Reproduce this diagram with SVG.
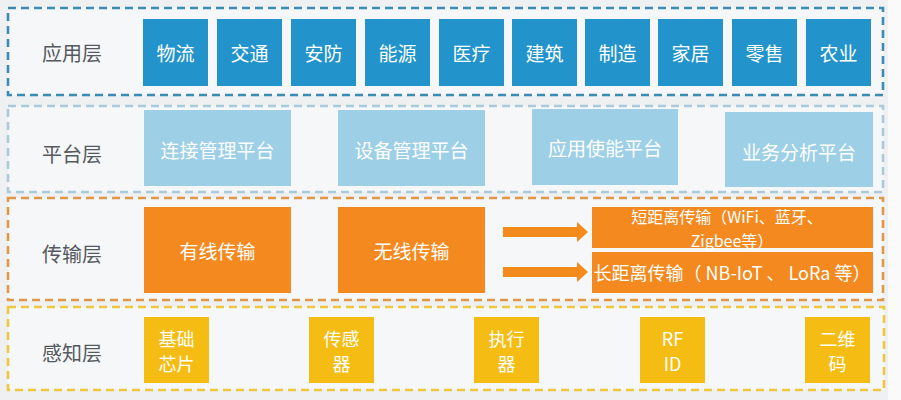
<svg xmlns="http://www.w3.org/2000/svg" width="901" height="400" viewBox="0 0 901 400">
<style>
text{font-family:"Noto Sans CJK SC","Noto Sans",sans-serif;text-anchor:middle;dominant-baseline:central}
.lbl{font-size:20px;fill:#555a60}
.w{fill:#ffffff;font-size:19px}
.s{font-size:18px}
.t{font-size:16px}
.layer{fill:#f6f7f9;stroke-width:2.6;stroke-dasharray:8 5}
.app{fill:#2294cb}
.plat{fill:#9dd0e7}
.tr{fill:#f48a1f}
.pe{fill:#f5bd14}
.arrow{fill:#f28a1e}
</style>
<rect x="0" y="0" width="901" height="400" fill="#eef0f2"/>
<rect x="888" y="0" width="13" height="400" fill="#fafafa"/>

<g id="layer-app">
<rect class="layer" x="8" y="8" width="875" height="87" stroke="#3a8cb4"/>
<text class="lbl" x="72" y="52">应用层</text>
</g>
<g id="n-wuliu"><rect class="app" x="143" y="19" width="65" height="67"/><text class="w" x="175.5" y="52">物流</text></g>
<g id="n-jiaotong"><rect class="app" x="217" y="19" width="65" height="67"/><text class="w" x="249.5" y="52">交通</text></g>
<g id="n-anfang"><rect class="app" x="291" y="19" width="65" height="67"/><text class="w" x="323.5" y="52">安防</text></g>
<g id="n-nengyuan"><rect class="app" x="365" y="19" width="65" height="67"/><text class="w" x="397.5" y="52">能源</text></g>
<g id="n-yiliao"><rect class="app" x="439" y="19" width="65" height="67"/><text class="w" x="471.5" y="52">医疗</text></g>
<g id="n-jianzhu"><rect class="app" x="512" y="19" width="65" height="67"/><text class="w" x="544.5" y="52">建筑</text></g>
<g id="n-zhizao"><rect class="app" x="585" y="19" width="65" height="67"/><text class="w" x="617.5" y="52">制造</text></g>
<g id="n-jiaju"><rect class="app" x="658" y="19" width="65" height="67"/><text class="w" x="690.5" y="52">家居</text></g>
<g id="n-lingshou"><rect class="app" x="732" y="19" width="65" height="67"/><text class="w" x="764.5" y="52">零售</text></g>
<g id="n-nongye"><rect class="app" x="806" y="19" width="65" height="67"/><text class="w" x="838.5" y="52">农业</text></g>

<g id="layer-plat">
<rect class="layer" x="8" y="106" width="875" height="86" stroke="#a9cadb"/>
<text class="lbl" x="72" y="153">平台层</text>
</g>
<g id="n-lianjie"><rect class="plat" x="144" y="110" width="147" height="76"/><text class="w" x="217.5" y="149">连接管理平台</text></g>
<g id="n-shebei"><rect class="plat" x="338" y="110" width="147" height="76"/><text class="w" x="411.5" y="149">设备管理平台</text></g>
<g id="n-yingyong"><rect class="plat" x="532" y="109" width="146" height="76"/><text class="w" x="605" y="147">应用使能平台</text></g>
<g id="n-yewu"><rect class="plat" x="725" y="112" width="148" height="75"/><text class="w" x="799" y="151">业务分析平台</text></g>

<g id="layer-trans">
<rect class="layer" x="8" y="198" width="875" height="102" stroke="#e09848"/>
<text class="lbl" x="72" y="253">传输层</text>
</g>
<g id="n-youxian"><rect class="tr" x="144" y="207" width="147" height="86"/><text class="w" x="217.5" y="250">有线传输</text></g>
<g id="n-wuxian"><rect class="tr" x="338" y="207" width="147" height="86"/><text class="w" x="411.5" y="250">无线传输</text></g>
<g id="n-short"><rect class="tr" x="592" y="207" width="281" height="41"/><text class="w t" x="727" y="216">短距离传输（WiFi、蓝牙、</text><text class="w t" x="732" y="239.5">Zigbee等）</text></g>
<g id="n-long"><rect class="tr" x="592" y="252" width="281" height="41"/><text class="w" x="732" y="272" style="font-size:18px">长距离传输（ NB-IoT 、 LoRa 等）</text></g>

<g id="connectors">
<path class="arrow" d="M503,227 H577 V222 L588,232 L577,242 V237 H503 Z"/>
<path class="arrow" d="M503,267 H577 V262 L588,272 L577,282 V277 H503 Z"/>
</g>

<g id="layer-perc">
<rect class="layer" x="8" y="307" width="876" height="83" stroke="#f0c63c"/>
<text class="lbl" x="72" y="352">感知层</text>
</g>
<g id="n-xinpian"><rect class="pe" x="144" y="317" width="65" height="66"/><text class="w s" x="176.5" y="338">基础</text><text class="w s" x="176.5" y="363">芯片</text></g>
<g id="n-chuanganqi"><rect class="pe" x="309" y="317" width="65" height="66"/><text class="w s" x="341.5" y="338">传感</text><text class="w s" x="341.5" y="363">器</text></g>
<g id="n-zhixingqi"><rect class="pe" x="474" y="317" width="65" height="66"/><text class="w s" x="506.5" y="338">执行</text><text class="w s" x="506.5" y="363">器</text></g>
<g id="n-rfid"><rect class="pe" x="640" y="317" width="65" height="66"/><text class="w s" x="672.5" y="338">RF</text><text class="w s" x="672.5" y="363">ID</text></g>
<g id="n-erweima"><rect class="pe" x="805" y="317" width="65" height="66"/><text class="w s" x="837.5" y="338">二维</text><text class="w s" x="837.5" y="363">码</text></g>
</svg>
